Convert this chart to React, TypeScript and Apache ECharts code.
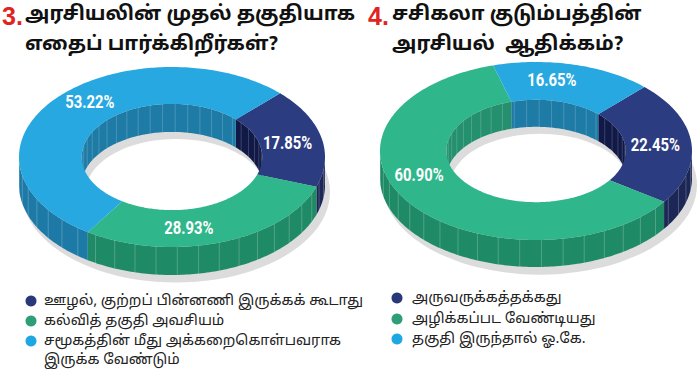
import React, { useEffect, useRef } from 'react';
import * as echarts from 'echarts';

// ---------- data ----------
const leftTitle = ['அரசியலின் முதல் தகுதியாக', 'எதைப் பார்க்கிறீர்கள்?'];
const leftNumber = '3.';
const leftCategories = [
  'ஊழல், குற்றப் பின்னணி இருக்கக் கூடாது',
  'கல்வித் தகுதி அவசியம்',
  'சமூகத்தின் மீது அக்கறைகொள்பவராக\nஇருக்க வேண்டும்',
];
const leftValues = [17.85, 28.93, 53.22];

const rightTitle = ['சசிகலா குடும்பத்தின்', 'அரசியல்  ஆதிக்கம்?'];
const rightNumber = '4.';
const rightCategories = ['அருவருக்கத்தக்கது', 'அழிக்கப்பட வேண்டியது', 'தகுதி இருந்தால் ஓ.கே.'];
const rightValues = [22.45, 60.9, 16.65];

// ---------- styles ----------
const TOP = ['#2b3c81', '#30b68b', '#28a8e0'];
const SIDE = ['#1c2756', '#1f8a66', '#1d7aa6'];
const INNER = ['#111a47', '#25906d', '#1e7ba6'];
const DOT = ['#28397a', '#2e9e78', '#1ea7e0'];
const TAMIL = '"Noto Sans Tamil", "Lohit Tamil", "Noto Sans", sans-serif';

type Geom = {
  cx: number; cy: number; rx: number; ry: number; ratio: number; depth: number; start: number;
  labelOffsets: number[][];
};

const leftGeom: Geom = {
  cx: 172, cy: 157, rx: 153, ry: 90, ratio: 0.59, depth: 28, start: -Math.PI / 4,
  labelOffsets: [[-3, 1], [-22, 3], [12, -10]],
};
const rightGeom: Geom = {
  cx: 536, cy: 151, rx: 156, ry: 89, ratio: 0.575, depth: 27, start: -46 * Math.PI / 180,
  labelOffsets: [[-3, 0], [-17, -17], [-14, -4]],
};

function donutSeries(name: string, values: number[], g: Geom) {
  const total = values.reduce((a, b) => a + b, 0);
  const cum: number[] = [];
  let acc = 0;
  values.forEach((v) => { cum.push(acc); acc += v; });
  const DEG = Math.PI / 180;
  return {
    type: 'custom',
    name,
    coordinateSystem: 'none',
    silent: true,
    data: values.map((v) => [v]),
    renderItem: (params: any, api: any) => {
      const i = params.dataIndex;
      const v = api.value(0);
      const a0 = g.start + (2 * Math.PI * cum[i]) / total;
      const a1 = a0 + (2 * Math.PI * v) / total;
      const rxi = g.rx * g.ratio;
      const ryi = g.ry * g.ratio;
      const pt = (rx: number, ry: number, t: number, dy = 0) => [
        g.cx + rx * Math.cos(t),
        g.cy + ry * Math.sin(t) + dy,
      ];
      const angles: number[] = [];
      const steps = Math.max(2, Math.ceil((a1 - a0) / DEG));
      for (let k = 0; k <= steps; k++) angles.push(a0 + ((a1 - a0) * k) / steps);
      for (let m = Math.ceil(a0 / Math.PI); m * Math.PI < a1; m++) angles.push(m * Math.PI);
      angles.sort((a, b) => a - b);
      const runs = (pred: (t: number) => boolean) => {
        const out: number[][] = [];
        let cur: number[] | null = null;
        for (const t of angles) {
          if (pred(t)) { if (cur) cur.push(t); else cur = [t]; }
          else { if (cur && cur.length > 1) out.push(cur); cur = null; }
        }
        if (cur && cur.length > 1) out.push(cur);
        return out;
      };
      const children: any[] = [];
      const stripe = 8 * DEG;
      // outer front wall
      runs((t) => Math.sin(t) >= -1e-9).forEach((run) => {
        const pts = run.map((t) => pt(g.rx, g.ry, t)).concat(run.slice().reverse().map((t) => pt(g.rx, g.ry, t, g.depth)));
        children.push({ type: 'polygon', z2: 1, shape: { points: pts }, style: { fill: SIDE[i] } });
        for (let s = Math.ceil(run[0] / stripe) * stripe; s < run[run.length - 1]; s += stripe) {
          const p1 = pt(g.rx, g.ry, s);
          const p2 = pt(g.rx, g.ry, s, g.depth);
          children.push({ type: 'line', z2: 1, shape: { x1: p1[0], y1: p1[1], x2: p2[0], y2: p2[1] }, style: { stroke: 'rgba(255,255,255,0.22)', lineWidth: 1 } });
        }
      });
      // inner back wall
      runs((t) => Math.sin(t) <= 1e-9).forEach((run) => {
        const pts = run.map((t) => pt(rxi, ryi, t)).concat(run.slice().reverse().map((t) => pt(rxi, ryi, t, g.depth)));
        children.push({ type: 'polygon', z2: 1, shape: { points: pts }, style: { fill: INNER[i] } });
        for (let s = Math.ceil(run[0] / stripe) * stripe; s < run[run.length - 1]; s += stripe) {
          const p1 = pt(rxi, ryi, s);
          const p2 = pt(rxi, ryi, s, g.depth);
          children.push({ type: 'line', z2: 1, shape: { x1: p1[0], y1: p1[1], x2: p2[0], y2: p2[1] }, style: { stroke: 'rgba(255,255,255,0.18)', lineWidth: 1 } });
        }
      });
      // top face
      const topPts = angles.map((t) => pt(g.rx, g.ry, t)).concat(angles.slice().reverse().map((t) => pt(rxi, ryi, t)));
      children.push({ type: 'polygon', z2: 2, shape: { points: topPts }, style: { fill: TOP[i] } });
      // label
      const mid = (a0 + a1) / 2;
      const mr = (1 + g.ratio) / 2;
      const lp = pt(g.rx * mr, g.ry * mr, mid);
      const off = g.labelOffsets[i] || [0, 0];
      children.push({
        type: 'text', z2: 3,
        x: lp[0] + off[0], y: lp[1] + off[1],
        scaleX: 0.78,
        style: {
          text: v.toFixed(2) + '%',
          fill: '#ffffff',
          font: 'bold 19px Roboto, "Liberation Sans", sans-serif',
          align: 'center', verticalAlign: 'middle',
        },
      });
      return { type: 'group', children };
    },
  };
}

function shadow(g: Geom) {
  return {
    type: 'group', x: g.cx + 4, y: g.cy + g.depth + 7, scaleY: g.ry / g.rx, silent: true, z: 0,
    children: [{ type: 'ring', shape: { cx: 0, cy: 0, r: g.rx + 1, r0: g.rx * g.ratio }, style: { fill: '#dcdcdc' } }],
  };
}

function titleBlock(num: string, lines: string[], x: number, textX: number) {
  return [
    { type: 'text', x, y: 16, style: { text: num, fill: '#e0241f', font: 'bold 25px "Liberation Sans", Arial, sans-serif', verticalAlign: 'middle' } },
    { type: 'text', x: textX, y: 15, style: { text: lines[0], fill: '#111', font: 'bold 20px ' + TAMIL, verticalAlign: 'middle' } },
    { type: 'text', x: textX, y: 45, style: { text: lines[1], fill: '#111', font: 'bold 20px ' + TAMIL, verticalAlign: 'middle' } },
  ];
}

function legendBlock(cats: string[], dotX: number, textX: number, ys: number[]) {
  const els: any[] = [];
  cats.forEach((c, i) => {
    els.push({ type: 'circle', shape: { cx: dotX, cy: ys[i], r: 5.5 }, style: { fill: DOT[i] } });
    els.push({
      type: 'text', x: textX, y: ys[i] - 10,
      style: { text: c, fill: '#222', font: '14.5px ' + TAMIL, lineHeight: 19, verticalAlign: 'top' },
    });
  });
  return els;
}

export default function App() {
  const ref = useRef<HTMLDivElement>(null);
  useEffect(() => {
    document.body.style.margin = '0';
    const chart = echarts.init(ref.current!, null, { renderer: 'svg' });
    chart.setOption({
      animation: false,
      backgroundColor: '#ffffff',
      graphic: [
        shadow(leftGeom),
        shadow(rightGeom),
        ...titleBlock(leftNumber, leftTitle, 2, 25),
        ...titleBlock(rightNumber, rightTitle, 368, 392),
        ...legendBlock(leftCategories, 31, 44, [301, 321, 341]),
        ...legendBlock(rightCategories, 397, 412, [298, 319, 339]),
      ],
      series: [
        donutSeries('left', leftValues, leftGeom),
        donutSeries('right', rightValues, rightGeom),
      ],
    });
    return () => chart.dispose();
  }, []);
  return <div ref={ref} style={{ width: 700, height: 370 }} />;
}
